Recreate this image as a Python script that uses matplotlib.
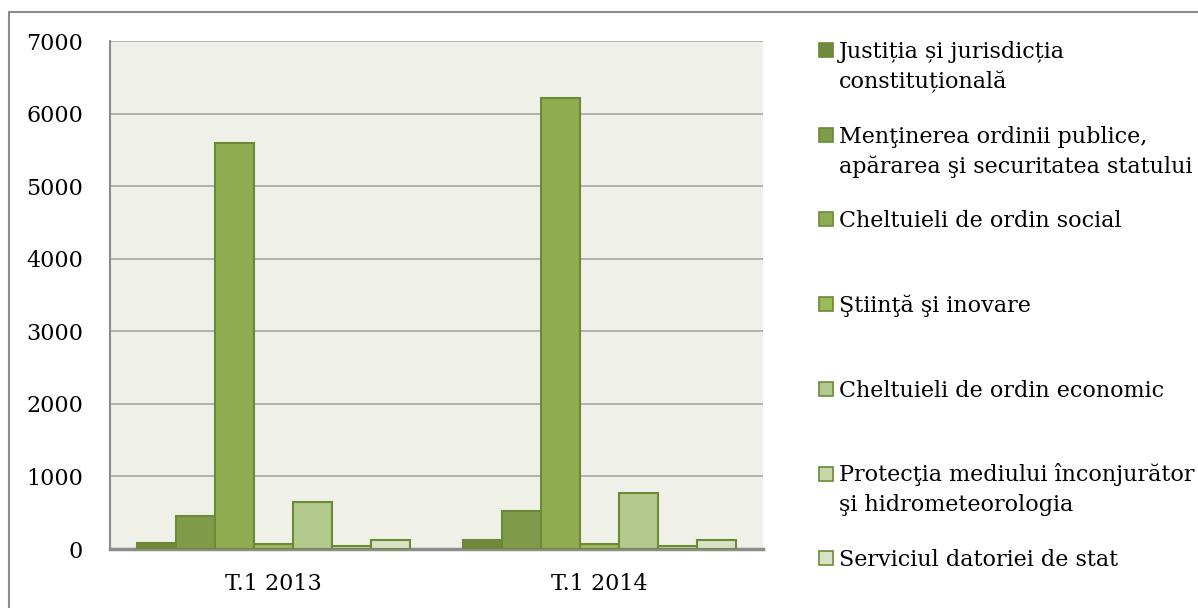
import matplotlib
matplotlib.use("Agg")
import matplotlib.pyplot as plt
from matplotlib.patches import Rectangle
import numpy as np

categories = ["T.1 2013", "T.1 2014"]
series = [
    "Justiția și jurisdicția\nconstituțională",
    "Menţinerea ordinii publice,\napărarea şi securitatea statului",
    "Cheltuieli de ordin social",
    "Ştiinţă şi inovare",
    "Cheltuieli de ordin economic",
    "Protecţia mediului înconjurător\nşi hidrometeorologia",
    "Serviciul datoriei de stat",
]
values = [
    [88, 125],
    [455, 520],
    [5600, 6210],
    [70, 75],
    [650, 770],
    [35, 40],
    [125, 125],
]
colors = ["#71893A", "#7F9A48", "#8FAC51", "#9BBB59", "#B3C98D", "#C5D6A8", "#D7E3C4"]
edge = "#6B8A35"

plt.rcParams['font.family'] = ['DejaVu Serif']
W, H = 1198, 608
fig = plt.figure(figsize=(W/100, H/100), dpi=100)

# outer frame
fig.patches.append(Rectangle((9/W, -0.05), 1.2, 1 - 12/H + 0.05, transform=fig.transFigure,
                             fill=False, edgecolor="#8C8C8C", linewidth=1.5))

ax = fig.add_axes([110/W, 1 - 549/H, (763-110)/W, (549-41)/H])
ax.set_facecolor("#EFF1E9")

n = len(series)
bw = 0.1195
x = np.arange(len(categories))
for i in range(n):
    off = (i - (n - 1) / 2) * bw
    ax.bar(x + off, values[i], width=bw, color=colors[i], edgecolor=edge, linewidth=1.5, zorder=3)

ax.set_xlim(-0.5, 1.5)
ax.set_ylim(0, 7000)
ax.set_yticks(range(0, 7001, 1000))
ax.set_xticks(x)
ax.set_xticklabels(categories)
ax.tick_params(axis='both', length=0, labelsize=16)
ax.tick_params(axis='y', pad=19.5)
ax.tick_params(axis='x', pad=17)
ax.yaxis.grid(True, color="#A6A6A6", linewidth=1.2, zorder=0)
ax.set_axisbelow(True)
for s in ["top", "right"]:
    ax.spines[s].set_visible(False)
ax.spines["left"].set_color("#8C8C8C")
ax.spines["left"].set_linewidth(1.5)
ax.spines["bottom"].set_color("#8C8C8C")
ax.spines["bottom"].set_linewidth(2.5)

# manual legend (Excel-style: marker aligned with first text line)
for i, lab in enumerate(series):
    yc = 50 + i * 84.7
    fig.patches.append(Rectangle((819/W, 1 - (yc + 7)/H), 14/W, 14/H, transform=fig.transFigure,
                                 facecolor=colors[i], edgecolor=edge, linewidth=1.2))
    for k, line in enumerate(lab.split("\n")):
        fig.text(839/W, 1 - (yc + 8 + 30 * k)/H, line, fontsize=16, va='baseline', ha='left')

fig.savefig("out.png", dpi=100)
